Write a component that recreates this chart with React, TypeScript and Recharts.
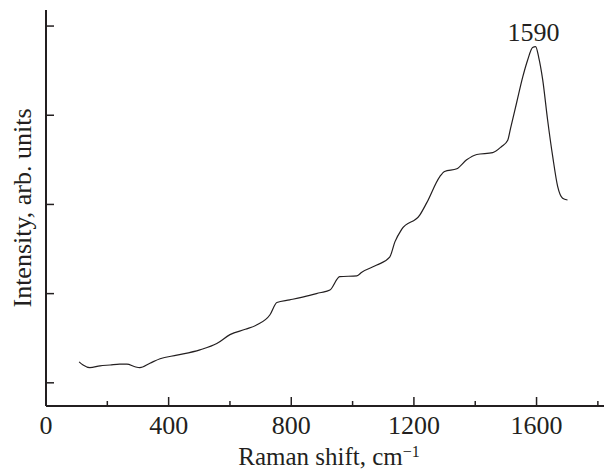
import React from "react";
import { LineChart, Line, XAxis, YAxis, ReferenceDot } from "recharts";

const shift = [
  108, 121, 143, 176, 209, 240, 264, 290, 306, 339, 372, 427, 502, 557, 600, 650,
  688, 730, 753, 795, 860, 893, 926, 958, 1014, 1030, 1079, 1121, 1138, 1160, 1219,
  1242, 1284, 1300, 1340, 1372, 1405, 1457, 1486, 1506, 1515, 1535, 1555, 1571,
  1587, 1597, 1607, 1620, 1636, 1653, 1669, 1685, 1701,
];
const intensity = [
  0.235, 0.2, 0.17, 0.19, 0.2, 0.21, 0.21, 0.18, 0.17, 0.22, 0.27, 0.31, 0.37, 0.44,
  0.54, 0.6, 0.65, 0.76, 0.9, 0.93, 0.98, 1.01, 1.04, 1.19, 1.2, 1.24, 1.32, 1.41,
  1.58, 1.72, 1.88, 2.02, 2.31, 2.37, 2.4, 2.5, 2.56, 2.58, 2.65, 2.72, 2.85, 3.14,
  3.43, 3.62, 3.76, 3.77, 3.65, 3.4, 2.95, 2.53, 2.2, 2.07, 2.05,
];
const xTicks = [0, 200, 400, 600, 800, 1000, 1200, 1400, 1600, 1800];
const yTicks = [0, 1, 2, 3, 4];
const peak = { x: 1590, y: 3.77, label: "1590" };

const data = shift.map((x, i) => ({ x, y: intensity[i] }));

const ink = "#231f20";
const font = "'Liberation Serif', 'Times New Roman', serif";

const XTick = (props: any) => {
  const { x, y, payload } = props;
  const major = payload.value % 400 === 0;
  return (
    <g>
      <line x1={x} x2={x} y1={y} y2={y - (major ? 9 : 5)} stroke={ink} strokeWidth={1.5} />
      {major && (
        <text x={x} y={y + 28} textAnchor="middle" fontFamily={font} fontSize={26} fill={ink}>
          {payload.value}
        </text>
      )}
    </g>
  );
};

const YTick = (props: any) => {
  const { x, y } = props;
  return <line x1={x} x2={x + 8} y1={y} y2={y} stroke={ink} strokeWidth={1.5} />;
};

export default function App() {
  return (
    <div style={{ position: "absolute", left: 0, top: 0, background: "#fff" }}>
      <LineChart
        width={608}
        height={471}
        data={data}
        margin={{ top: 10, right: 4, bottom: 0, left: 0 }}
      >
        <XAxis
          dataKey="x"
          type="number"
          domain={[0, 1820]}
          ticks={xTicks}
          interval={0}
          height={65}
          tickSize={0}
          tickMargin={0}
          tickLine={false}
          tick={<XTick />}
          axisLine={{ stroke: ink, strokeWidth: 2 }}
          label={{
            content: () => (
              <text x={329} y={465} textAnchor="middle" fontFamily={font} fontSize={25} fill={ink}>
                Raman shift, cm
                <tspan dy={-8} fontSize={16}>
                  −1
                </tspan>
              </text>
            ),
          }}
        />
        <YAxis
          type="number"
          domain={[-0.26, 4.18]}
          ticks={yTicks}
          interval={0}
          width={46}
          tickSize={0}
          tickMargin={0}
          tickLine={false}
          tick={<YTick />}
          axisLine={{ stroke: ink, strokeWidth: 2 }}
          label={{
            content: () => (
              <text
                x={31}
                y={208}
                transform="rotate(-90 31 208)"
                textAnchor="middle"
                fontFamily={font}
                fontSize={26}
                fill={ink}
              >
                Intensity, arb. units
              </text>
            ),
          }}
        />
        <Line
          dataKey="y"
          type="monotone"
          stroke={ink}
          strokeWidth={1.2}
          dot={false}
          isAnimationActive={false}
        />
        <ReferenceDot
          x={peak.x}
          y={peak.y}
          r={0}
          fill="none"
          stroke="none"
          label={{
            value: peak.label,
            position: "top",
            offset: 6,
            fontFamily: font,
            fontSize: 26,
            fill: ink,
          }}
        />
      </LineChart>
    </div>
  );
}
